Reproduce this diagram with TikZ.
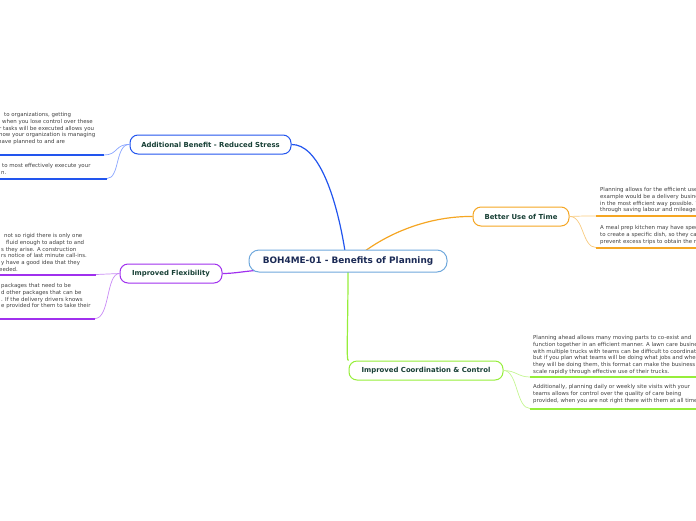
\documentclass[tikz,border=0pt]{standalone}
\usepackage{fontspec}
\setmainfont{DejaVu Sans}
\usetikzlibrary{backgrounds}
\definecolor{cblue}{HTML}{2255EE}
\definecolor{lblue}{HTML}{88A4FF}
\definecolor{corange}{HTML}{F5A623}
\definecolor{lorange}{HTML}{F8CB80}
\definecolor{cpurple}{HTML}{A030EE}
\definecolor{lpurple}{HTML}{C88AF5}
\definecolor{cgreen}{HTML}{96EE3A}
\definecolor{lgreen}{HTML}{C4F592}
\definecolor{cmain}{HTML}{6FA8DC}
\definecolor{labeltext}{HTML}{173F35}
\definecolor{maintext}{HTML}{1B2A55}
\definecolor{bodytext}{HTML}{404040}
\tikzset{
  topic/.style={draw, line width=1pt, fill=white, rounded corners=8pt, minimum height=19pt, inner sep=0pt,
    font=\fontsize{6.9}{8}\selectfont\bfseries, text=labeltext},
  central/.style={draw=cmain, line width=1pt, fill=white, rounded corners=10pt, minimum height=22pt, minimum width=198pt,
    inner sep=0pt, font=\fontsize{8.9}{10}\selectfont\bfseries, text=maintext},
  body/.style={anchor=north west, inner sep=0pt, align=left, text=bodytext, font=\fontsize{5.45}{6.85}\selectfont},
  branch/.style={line width=1.2pt},
  leaf/.style={line width=0.7pt},
  uline/.style={line width=2pt}
}
\begin{document}
\begin{tikzpicture}[x=1pt,y=-1pt]
\useasboundingbox (0,0) rectangle (696,520);
\clip (0,0) rectangle (696,520);
% branch start points on the central topic
\coordinate (mA) at (345,251);
\coordinate (mB) at (365,251);
\coordinate (mF) at (262,270);
\coordinate (mC) at (348,271);
% leaf underline ends
\coordinate (a1r) at (104,155);
\coordinate (a1l) at (0,155);
\coordinate (a2r) at (107,178.5);
\coordinate (a2l) at (0,178.5);
\coordinate (f1r) at (96,274.5);
\coordinate (f1l) at (0,274.5);
\coordinate (f2r) at (95,318.5);
\coordinate (f2l) at (0,318.5);
\coordinate (b1l) at (596,216);
\coordinate (b1r) at (696,216);
\coordinate (b2l) at (596,247.5);
\coordinate (b2r) at (696,247.5);
\coordinate (c1l) at (530,377);
\coordinate (c1r) at (696,377);
\coordinate (c2l) at (530,408.5);
\coordinate (c2r) at (696,408.5);
% nodes
\node[central] (M) at (348,261) {BOH4ME-01 - Benefits of Planning};
\node[topic, draw=cblue, minimum width=161pt] (A) at (210.5,144.5) {Additional Benefit - Reduced Stress};
\node[topic, draw=corange, minimum width=96pt] (B) at (521,216.5) {Better Use of Time};
\node[topic, draw=cpurple, minimum width=102pt] (F) at (171,273.5) {Improved Flexibility};
\node[topic, draw=cgreen, minimum width=154pt] (C) at (426,370.5) {Improved Coordination \& Control};
% connectors behind the boxes
\begin{scope}[on background layer]
\draw[branch, cblue] (mA) .. controls (336,195) and (318,144) .. (A.east);
\draw[branch, corange] (mB) .. controls (400,226) and (440,216) .. (B.west);
\draw[branch, cpurple] (mF) .. controls (245,271) and (235,273.5) .. (F.east);
\draw[branch, cgreen] (mC) .. controls (348,330) and (346,362) .. (C.north west);
\end{scope}
% leaf connectors
\draw[leaf, lblue] (A.west) .. controls (115,144) and (118,155) .. (a1r);
\draw[leaf, lblue] (A.west) .. controls (115,144) and (120,178.5) .. (a2r);
\draw[leaf, lpurple] (F.west) .. controls (108,273.5) and (108,274.5) .. (f1r);
\draw[leaf, lpurple] (F.west) .. controls (106,273.5) and (110,318.5) .. (f2r);
\draw[leaf, lorange] (B.east) .. controls (582,216) and (584,216) .. (b1l);
\draw[leaf, lorange] (B.east) .. controls (584,216) and (582,247.5) .. (b2l);
\draw[leaf, lgreen] (C.east) .. controls (516,370.5) and (518,377) .. (c1l);
\draw[leaf, lgreen] (C.east) .. controls (518,370.5) and (516,408.5) .. (c2l);
% underlines
\draw[uline, cblue] (a1l) -- (a1r);
\draw[uline, cblue] (a2l) -- (a2r);
\draw[uline, cpurple] (f1l) -- (f1r);
\draw[uline, cpurple] (f2l) -- (f2r);
\draw[uline, corange] (b1l) -- (b1r);
\draw[uline, corange] (b2l) -- (b2r);
\draw[uline, cgreen] (c1l) -- (c1r);
\draw[uline, cgreen] (c2l) -- (c2r);
% body texts
\node[body] (ta1) at (1,112) {\hspace*{3pt}to organizations, getting\\ \hspace*{1pt}when you lose control over these\\ \hspace*{-2pt}r tasks will be executed allows you\\ \hspace*{-2pt}how your organization is managing\\ \hspace*{-3pt}have planned to and are};
\node[body] (ta2) at (1,163) {\hspace*{1pt}to most effectively execute your\\ n.};
\node[body] (tf1) at (1,233) {\hspace*{3pt}not so rigid there is only one\\ \hspace*{5pt}fluid enough to adapt to and\\ s they arise. A construction\\ rs notice of last minute call-ins.\\ y have a good idea that they\\ \hspace*{-5.5pt}needed.};
\node[body] (tf2) at (1,283) {packages that need to be\\ d other packages that can be\\ . If the delivery drivers knows\\ e provided for them to take their};
\node[body] (tb1) at (600,187) {Planning allows for the efficient use of\\ example would be a delivery business\\ in the most efficient way possible. This\\ through saving labour and mileage.};
\node[body] (tb2) at (600,225) {A meal prep kitchen may have specific\\ to create a specific dish, so they can\\ prevent excess trips to obtain the right};
\node[body] (tc1) at (533,335) {Planning ahead allows many moving parts to co-exist and\\ function together in an efficient manner. A lawn care business\\ with multiple trucks with teams can be difficult to coordinate,\\ but if you plan what teams will be doing what jobs and when\\ they will be doing them, this format can make the business\\ scale rapidly through effective use of their trucks.};
\node[body] (tc2) at (533,384) {Additionally, planning daily or weekly site visits with your\\ teams allows for control over the quality of care being\\ provided, when you are not right there with them at all times.};
\end{tikzpicture}
\end{document}
